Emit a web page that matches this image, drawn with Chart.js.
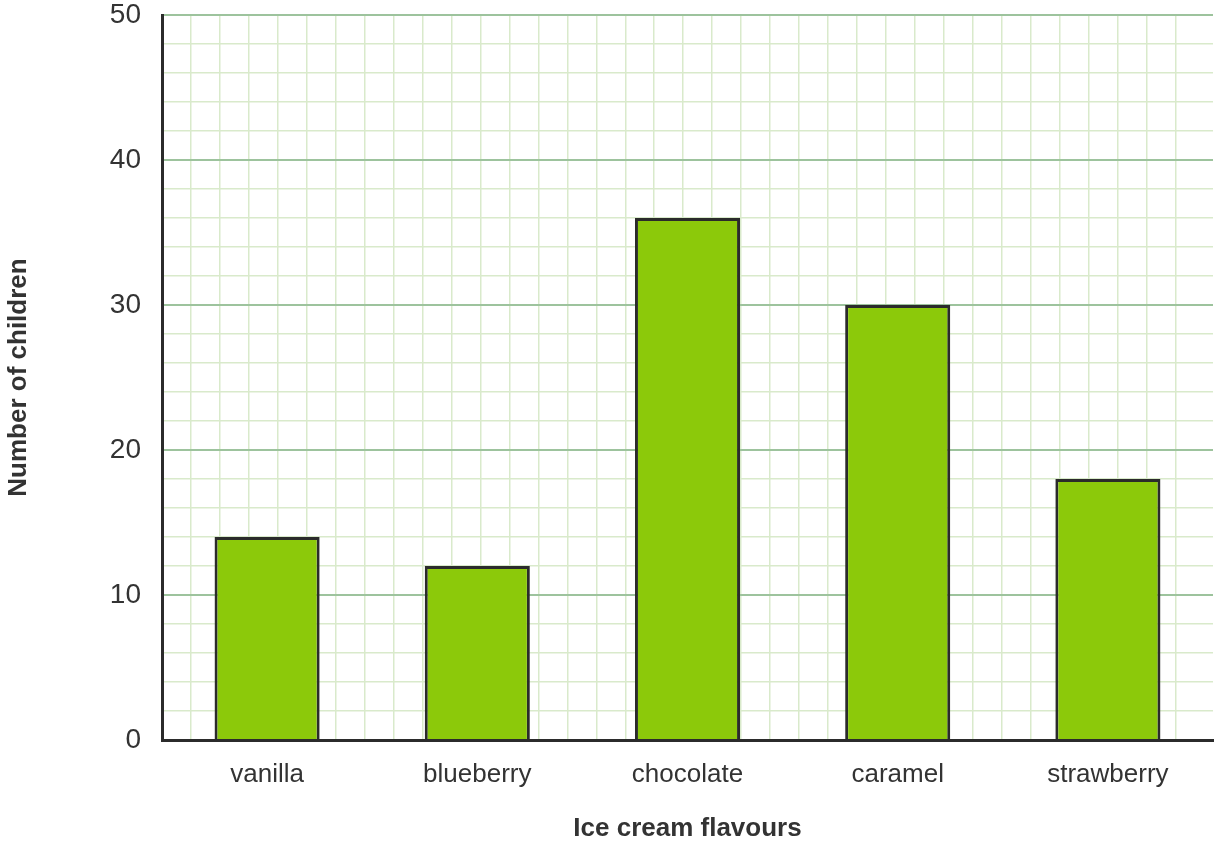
<!DOCTYPE html>
<html lang="en">
<head>
    <meta charset="UTF-8">
    <title>Ice cream flavours</title>
    <script src="https://cdn.jsdelivr.net/npm/chart.js"></script>
    <style>
        html, body { margin: 0; padding: 0; background: #fff; }
        .chart-container { width: 1220px; height: 842px; position: relative; }
    </style>
</head>
<body>
    <div class="chart-container">
        <canvas id="iceCreamChart" width="1220" height="842"></canvas>
    </div>

    <script>
        // data
        const flavours = ['vanilla', 'blueberry', 'chocolate', 'caramel', 'strawberry'];
        const children = [14, 12, 36, 30, 18];
        const yTicksMajor = [0, 10, 20, 30, 40, 50];

        const textColor = '#333333';
        const axisColor = '#2b2b2b';
        const minorGrid = '#d9eacb';
        const majorGrid = '#9dc39d';
        const fontFamily = '"Liberation Sans", Arial, sans-serif';

        const isMajor = (c) => c.tick && yTicksMajor.includes(c.tick.value);

        const ctx = document.getElementById('iceCreamChart').getContext('2d');
        const chart = new Chart(ctx, {
            type: 'bar',
            data: {
                labels: flavours,
                datasets: [{
                    label: 'Number of children',
                    data: children,
                    backgroundColor: '#8cc90a',
                    borderColor: axisColor,
                    borderWidth: 3,
                    barPercentage: 0.5,
                    categoryPercentage: 1.0
                }]
            },
            options: {
                responsive: false,
                maintainAspectRatio: false,
                animation: false,
                layout: {
                    padding: { top: 15, right: 7, bottom: 0, left: 0 }
                },
                plugins: {
                    legend: { display: false },
                    tooltip: { enabled: false }
                },
                scales: {
                    x: {
                        position: 'bottom',
                        grid: { display: false, drawTicks: false },
                        border: { display: true, color: axisColor, width: 3 },
                        ticks: {
                            color: textColor,
                            padding: 19,
                            font: { family: fontFamily, size: 26 }
                        },
                        title: {
                            display: true,
                            text: 'Ice cream flavours',
                            color: textColor,
                            padding: { top: 0, bottom: -2 },
                            font: { family: fontFamily, size: 26, weight: 'bold' }
                        },
                        afterFit: (scale) => {
                            scale.height = 102;
                            scale.paddingLeft = 0;
                            scale.paddingRight = 0;
                        }
                    },
                    // hidden axis only used for the vertical graph-paper lines
                    xg: {
                        type: 'linear',
                        position: 'bottom',
                        offset: false,
                        min: 0,
                        max: 36.3,
                        ticks: { display: false, stepSize: 1, maxTicksLimit: 100, autoSkip: false },
                        border: { display: false },
                        grid: {
                            offset: false,
                            drawTicks: false,
                            lineWidth: 1.5,
                            color: (c) => (c.tick && Number.isInteger(c.tick.value)) ? minorGrid : 'rgba(0,0,0,0)'
                        },
                        afterFit: (scale) => { scale.height = 0; }
                    },
                    y: {
                        min: 0,
                        max: 50,
                        border: { display: true, color: axisColor, width: 3 },
                        grid: {
                            drawTicks: false,
                            color: (c) => isMajor(c) ? majorGrid : minorGrid,
                            lineWidth: (c) => isMajor(c) ? 2 : 1.5
                        },
                        ticks: {
                            stepSize: 2,
                            maxTicksLimit: 100,
                            autoSkip: false,
                            padding: 21,
                            color: textColor,
                            font: { family: fontFamily, size: 28 },
                            callback: (v) => yTicksMajor.includes(v) ? v : ''
                        },
                        title: {
                            display: true,
                            text: 'Number of children',
                            color: textColor,
                            padding: { top: 3, bottom: 0 },
                            font: { family: fontFamily, size: 26, weight: 'bold' }
                        },
                        afterFit: (scale) => {
                            scale.width = 162;
                            scale.paddingTop = 0;
                            scale.paddingBottom = 0;
                        }
                    }
                }
            }
        });
    </script>
</body>
</html>
